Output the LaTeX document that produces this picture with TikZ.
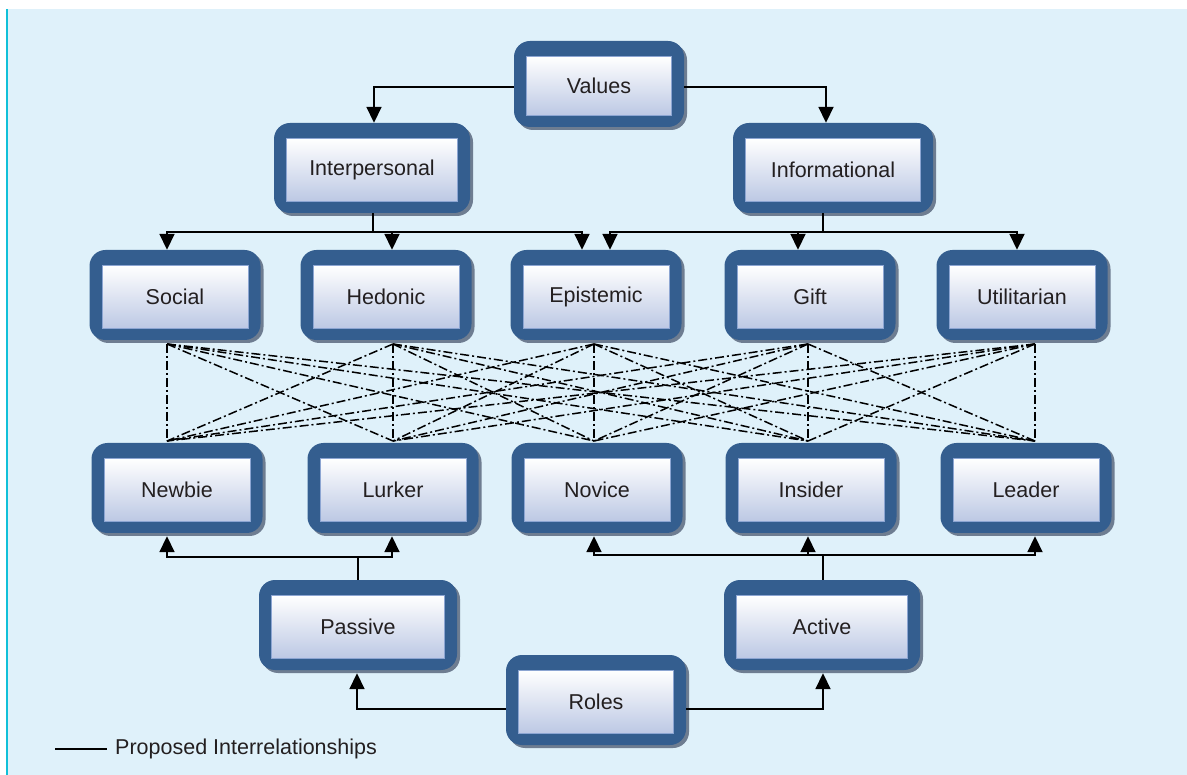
\documentclass[tikz,border=0pt]{standalone}
\usepackage{fontspec}
\setmainfont{Liberation Sans}
\usetikzlibrary{arrows.meta,shadows,calc}
\definecolor{bg}{RGB}{223,241,250}
\definecolor{edgecyan}{RGB}{16,192,216}
\definecolor{outerblue}{RGB}{52,94,143}
\definecolor{shadowgray}{RGB}{110,125,145}
\definecolor{innerbot}{RGB}{188,200,228}
\definecolor{innerline}{RGB}{140,165,210}
\definecolor{txt}{RGB}{35,31,32}
\tikzset{
  outerbox/.style={draw=none, fill=outerblue, rounded corners=16pt,
    drop shadow={shadow xshift=3pt, shadow yshift=-3pt, fill=shadowgray, opacity=1},
    inner sep=0pt},
  innerbox/.style={draw=innerline, line width=0.8pt, top color=white, bottom color=innerbot,
    text=txt, font=\fontsize{21.5}{25}\selectfont, inner sep=0pt},
  conn/.style={line width=1.8pt, -{Triangle[width=15pt,length=16pt]}},
  plain/.style={line width=1.8pt},
  dd/.style={line width=1.5pt, dash pattern=on 9pt off 3pt on 2pt off 3pt},
  legendtext/.style={anchor=west, text=txt, font=\fontsize{21.5}{25}\selectfont, inner sep=0pt},
}
\newcommand\rbox[6]{%
  \node[outerbox, minimum width={#4*1pt}, minimum height={#5*1pt}] (#1) at (#2,#3) {};
  \node[innerbox, minimum width={(#4-25)*1pt}, minimum height={(#5-27)*1pt}] (#1-in) at (#2,#3+2) {#6};
}
\begin{document}
\begin{tikzpicture}[x=1pt,y=-1pt]
\useasboundingbox (0,0) rectangle (1187,775);
\fill[white] (0,0) rectangle (1187,775);
\fill[bg] (7,9) rectangle (1187,775);
\draw[edgecyan, line width=1.5pt] (7,9) -- (7,775);

% dash-dot interrelationships
\coordinate (t1) at (167,344); \coordinate (t2) at (393,344); \coordinate (t3) at (594,344);
\coordinate (t4) at (808,344); \coordinate (t5) at (1035,344);
\coordinate (b1) at (167,441); \coordinate (b2) at (393,441); \coordinate (b3) at (594,441);
\coordinate (b4) at (808,441); \coordinate (b5) at (1035,441);
\foreach \t in {t1,t2,t3,t4,t5}{
  \foreach \b in {b1,b2,b3,b4,b5}{
    \draw[dd] (\t) -- (\b);
  }
}

% boxes
\rbox{values}{599}{84}{170}{86}{Values}
\rbox{interp}{372}{168}{196}{90}{Interpersonal}
\rbox{info}{833}{168}{200}{90}{Informational}
\rbox{social}{175}{295}{171}{90}{Social}
\rbox{hedonic}{386}{295}{171}{90}{Hedonic}
\rbox{epistemic}{596}{295}{171}{90}{Epistemic}
\rbox{gift}{810}{295}{171}{90}{Gift}
\rbox{util}{1022}{295}{171}{90}{Utilitarian}
\rbox{newbie}{177}{488}{171}{90}{Newbie}
\rbox{lurker}{393}{488}{171}{90}{Lurker}
\rbox{novice}{597}{488}{171}{90}{Novice}
\rbox{insider}{811}{488}{171}{90}{Insider}
\rbox{leader}{1026}{488}{171}{90}{Leader}
\rbox{passive}{358}{625}{198}{90}{Passive}
\rbox{active}{822}{625}{196}{90}{Active}
\rbox{roles}{596}{700}{180}{90}{Roles}

% top connectors
\draw[conn] ($(values.west)+(0,3)$) -| ($(interp.north)+(2,0)$);
\draw[conn] ($(values.east)+(0,3)$) -| ($(info.north)+(-7,0)$);

\coordinate (jI) at ($(interp.south)+(1,19)$);
\draw[plain] (interp.south -| jI) -- (jI);
\draw[conn] (jI) -| ($(social.north)+(-8,0)$);
\draw[conn] (jI) -| ($(hedonic.north)+(6,0)$);
\draw[conn] (jI) -| ($(epistemic.north)+(-14,0)$);

\coordinate (jF) at ($(info.south)+(-10,19)$);
\draw[plain] (info.south -| jF) -- (jF);
\draw[conn] (jF) -| ($(epistemic.north)+(14,0)$);
\draw[conn] (jF) -| ($(gift.north)+(-12,0)$);
\draw[conn] (jF) -| ($(util.north)+(-5,0)$);

% bottom connectors
\coordinate (jP) at ($(passive.north)+(0,-23)$);
\draw[plain] (passive.north) -- (jP);
\draw[conn] (jP) -| ($(newbie.south)+(-10,3)$);
\draw[conn] (jP) -| ($(lurker.south)+(-1,3)$);

\coordinate (jA) at ($(active.north)+(1,-25)$);
\draw[plain] (active.north -| jA) -- (jA);
\draw[conn] (jA) -| ($(novice.south)+(-3,3)$);
\draw[conn] (jA) -| ($(insider.south)+(-3,3)$);
\draw[conn] (jA) -| ($(leader.south)+(9,3)$);

\draw[conn] ($(roles.west)+(0,9)$) -| ($(passive.south)+(-1,3)$);
\draw[conn] ($(roles.east)+(0,9)$) -| ($(active.south)+(1,3)$);

% legend
\node[legendtext] (legend) at (115,749) {Proposed Interrelationships};
\coordinate (lg1) at (55,749);
\draw[line width=2.2pt] (lg1) -- ($(legend.west)+(-8,0)$);
\end{tikzpicture}
\end{document}
